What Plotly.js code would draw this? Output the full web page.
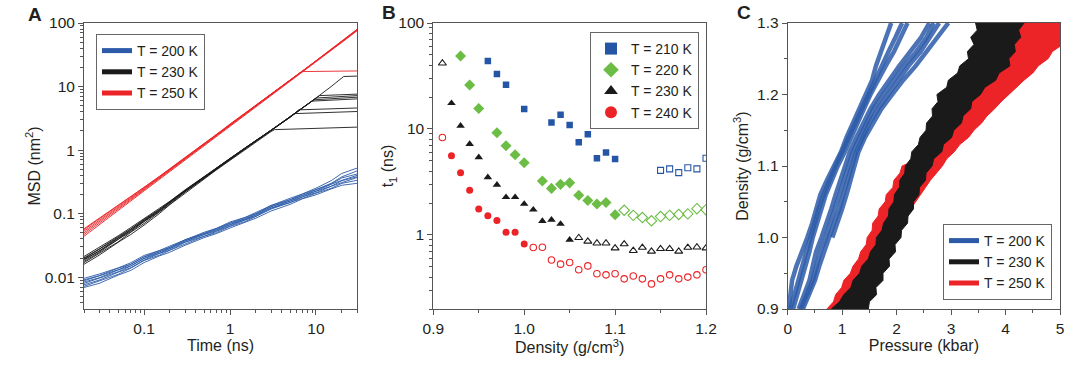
<!DOCTYPE html>
<html><head><meta charset="utf-8">
<script src="https://cdn.plot.ly/plotly-3.0.1.min.js"></script>
<style>html,body{margin:0;padding:0;background:#fff}#chart{width:1080px;height:373px}</style>
</head><body><div id="chart"></div>
<script>
// ---------- Panel A : MSD vs time ----------
const timeA = [0.02,0.03,0.05,0.07,0.1,0.15,0.2,0.3,0.5,0.7,1,1.5,2,3,5,7,10,15,20,30];
const msd200 = [
 [0.0069,0.0080,0.0108,0.0128,0.0170,0.0216,0.0248,0.0318,0.0420,0.0488,0.0595,0.0740,0.0850,0.1100,0.1400,0.1720,0.1980,0.2450,0.2800,0.3000],
 [0.0072,0.0087,0.0111,0.0139,0.0183,0.0222,0.0266,0.0332,0.0440,0.0505,0.0630,0.0750,0.0900,0.1180,0.1500,0.1740,0.2100,0.2500,0.3000,0.3350],
 [0.0076,0.0090,0.0120,0.0141,0.0186,0.0236,0.0268,0.0354,0.0442,0.0535,0.0640,0.0795,0.0910,0.1230,0.1490,0.1850,0.2130,0.2700,0.3050,0.3700],
 [0.0080,0.0096,0.0122,0.0150,0.0196,0.0238,0.0284,0.0358,0.0468,0.0538,0.0670,0.0798,0.0955,0.1210,0.1580,0.1830,0.2250,0.2700,0.3300,0.3800],
 [0.0084,0.0098,0.0130,0.0151,0.0198,0.0250,0.0283,0.0374,0.0470,0.0562,0.0672,0.0830,0.0950,0.1290,0.1580,0.1950,0.2260,0.2900,0.3350,0.4000],
 [0.0088,0.0104,0.0131,0.0160,0.0208,0.0249,0.0298,0.0373,0.0490,0.0565,0.0705,0.0832,0.1000,0.1280,0.1660,0.1930,0.2380,0.2920,0.3650,0.4200],
 [0.0091,0.0106,0.0139,0.0160,0.0210,0.0262,0.0296,0.0390,0.0490,0.0590,0.0710,0.0870,0.1000,0.1350,0.1660,0.2040,0.2400,0.3000,0.3800,0.4700],
 [0.0096,0.0112,0.0140,0.0169,0.0220,0.0262,0.0310,0.0390,0.0510,0.0590,0.0740,0.0875,0.1050,0.1340,0.1750,0.2050,0.2520,0.3300,0.4300,0.5200]
];
const time230 = [
 [0.02,0.03,0.05,0.07,0.1,0.15,0.2,0.3,0.5,0.7,1,1.5,2,3,3.3,30],
 [0.02,0.03,0.05,0.07,0.1,0.15,0.2,0.3,0.5,0.7,1,1.5,2,3,5,5.6,30],
 [0.02,0.03,0.05,0.07,0.1,0.15,0.2,0.3,0.5,0.7,1,1.5,2,3,5,6.3,30],
 [0.02,0.03,0.05,0.07,0.1,0.15,0.2,0.3,0.5,0.7,1,1.5,2,3,5,7,9,30],
 [0.02,0.03,0.05,0.07,0.1,0.15,0.2,0.3,0.5,0.7,1,1.5,2,3,5,7,9.5,30],
 [0.02,0.03,0.05,0.07,0.1,0.15,0.2,0.3,0.5,0.7,1,1.5,2,3,5,7,10,30],
 [0.02,0.03,0.05,0.07,0.1,0.15,0.2,0.3,0.5,0.7,1,1.5,2,3,5,7,10,11,30],
 [0.02,0.03,0.05,0.07,0.1,0.15,0.2,0.3,0.5,0.7,1,1.5,2,3,5,7,10,15,21,30]
];
const msd230 = [
 [0.016,0.0222,0.0355,0.047,0.066,0.100,0.139,0.210,0.350,0.492,0.69,1.02,1.36,1.96,2.1,2.3],
 [0.017,0.0238,0.036,0.051,0.070,0.106,0.141,0.220,0.360,0.502,0.71,1.05,1.36,1.99,3.3,3.75,4.05],
 [0.0178,0.0245,0.0395,0.052,0.075,0.107,0.148,0.221,0.370,0.508,0.72,1.065,1.38,2.0,3.28,4.3,4.6],
 [0.0186,0.026,0.0395,0.055,0.0755,0.112,0.148,0.228,0.371,0.518,0.724,1.07,1.395,2.01,3.31,4.6,5.9,6.4],
 [0.0192,0.0255,0.0415,0.054,0.078,0.111,0.153,0.228,0.378,0.518,0.732,1.075,1.40,2.02,3.3,4.61,6.2,6.8],
 [0.0196,0.0272,0.0418,0.057,0.0785,0.115,0.152,0.233,0.379,0.527,0.734,1.08,1.405,2.02,3.32,4.6,6.6,7.2],
 [0.0202,0.0278,0.0435,0.0575,0.0815,0.1155,0.156,0.233,0.384,0.529,0.741,1.085,1.41,2.03,3.3,4.62,6.6,7.2,7.6],
 [0.0212,0.0292,0.0448,0.0605,0.0828,0.119,0.157,0.237,0.386,0.536,0.745,1.09,1.42,2.04,3.31,4.6,6.6,10.0,14.4,14.6]
];
const time250 = [
 timeA, timeA, timeA, timeA, timeA,
 [0.02,0.03,0.05,0.07,0.1,0.15,0.2,0.3,0.5,0.7,1,1.5,2,3,5,6.8,30]
];
const msd250 = [
 [0.044,0.066,0.112,0.158,0.228,0.345,0.465,0.70,1.18,1.66,2.40,3.60,4.85,7.30,12.2,17.1,24.5,37.0,49.5,75.5],
 [0.047,0.070,0.118,0.165,0.237,0.357,0.478,0.72,1.21,1.70,2.46,3.68,4.93,7.40,12.4,17.3,24.8,37.4,50.0,76.5],
 [0.050,0.074,0.123,0.171,0.244,0.366,0.488,0.735,1.23,1.72,2.50,3.73,4.98,7.48,12.5,17.5,25.1,37.8,50.6,77.5],
 [0.053,0.078,0.128,0.177,0.250,0.374,0.497,0.745,1.25,1.75,2.53,3.77,5.03,7.55,12.6,17.6,25.3,38.2,51.2,78.5],
 [0.056,0.082,0.133,0.183,0.257,0.381,0.505,0.755,1.26,1.77,2.56,3.81,5.08,7.62,12.7,17.7,25.5,38.6,51.8,79.5],
 [0.058,0.084,0.136,0.186,0.260,0.385,0.51,0.76,1.27,1.78,2.57,3.83,5.1,7.65,12.8,17.2,17.6]
];
const legendA = ['T = 200 K','T = 230 K','T = 250 K'];

// ---------- Panel B : t1 vs density ----------
const dens210 = [0.96,0.97,0.98,1.00,1.03,1.04,1.05,1.06,1.07,1.08,1.09,1.10];
const t210 = [43.9,33,26.2,15.4,11.5,13.6,10.9,7.5,8.9,5.3,6.0,5.2];
const dens210o = [1.15,1.16,1.17,1.18,1.19,1.20];
const t210o = [4.07,4.2,3.87,4.3,4.2,5.3];
const dens220 = [0.93,0.94,0.95,0.97,0.98,0.99,1.00,1.02,1.03,1.04,1.05,1.06,1.07,1.08,1.09,1.10];
const t220 = [48.9,26,15.6,9.2,6.95,5.7,4.8,3.23,2.75,3.0,3.1,2.37,2.11,1.96,2.02,1.55];
const dens220o = [1.11,1.12,1.13,1.14,1.15,1.16,1.17,1.18,1.19,1.20];
const t220o = [1.71,1.53,1.46,1.36,1.49,1.53,1.56,1.58,1.77,1.73];
const dens230 = [0.92,0.93,0.94,0.95,0.96,0.97,0.98,0.99,1.00,1.01,1.02,1.03,1.04,1.05];
const t230 = [17.5,10.7,7.2,5.4,3.5,2.97,2.27,2.27,1.96,1.73,1.35,1.39,1.27,0.90];
const dens230o = [0.91,1.06,1.07,1.08,1.09,1.10,1.11,1.12,1.13,1.14,1.15,1.16,1.17,1.18,1.19,1.20];
const t230o = [41.7,0.94,0.87,0.835,0.835,0.75,0.82,0.71,0.76,0.70,0.74,0.74,0.70,0.76,0.765,0.75];
const dens240 = [0.92,0.93,0.94,0.95,0.96,0.97,0.98,0.99,1.00];
const t240 = [5.6,3.87,2.64,1.76,1.52,1.37,1.06,1.06,0.82];
const dens240o = [0.91,1.01,1.02,1.03,1.04,1.05,1.06,1.07,1.08,1.09,1.10,1.11,1.12,1.13,1.14,1.15,1.16,1.17,1.18,1.19,1.20];
const t240o = [8.3,0.76,0.765,0.58,0.53,0.55,0.47,0.51,0.43,0.42,0.43,0.385,0.41,0.385,0.345,0.385,0.42,0.385,0.40,0.42,0.47];
const legendB = ['T = 210 K','T = 220 K','T = 230 K','T = 240 K'];

// ---------- Panel C : density vs pressure ----------
const densStrand = [0.90,0.92,0.94,0.96,0.98,1.00,1.02,1.04,1.06,1.08,1.10,1.12,1.14,1.16,1.18,1.20,1.22,1.24,1.26,1.28,1.30];
const press200 = [
 [0.02,0.05,0.08,0.16,0.27,0.36,0.45,0.52,0.60,0.72,0.86,0.98,1.08,1.20,1.30,1.42,1.55,1.62,1.72,1.82,1.90],
 [0.05,0.12,0.20,0.25,0.34,0.42,0.49,0.57,0.66,0.76,0.88,1.00,1.12,1.24,1.35,1.47,1.60,1.72,1.85,1.98,2.10],
 [0.10,0.18,0.26,0.32,0.40,0.46,0.53,0.62,0.70,0.80,0.92,1.05,1.16,1.28,1.40,1.52,1.65,1.80,1.95,2.08,2.20],
 [0.20,0.30,0.40,0.46,0.52,0.62,0.72,0.80,0.88,0.96,1.04,1.14,1.26,1.38,1.52,1.68,1.86,2.05,2.25,2.45,2.60],
 [0.24,0.36,0.46,0.53,0.60,0.70,0.78,0.88,0.96,1.04,1.12,1.20,1.32,1.44,1.58,1.76,1.94,2.14,2.36,2.55,2.68],
 [0.28,0.40,0.50,0.58,0.66,0.76,0.85,0.95,1.02,1.10,1.18,1.26,1.38,1.50,1.66,1.84,2.02,2.22,2.44,2.62,2.78],
 [null,null,null,null,null,0.82,0.92,1.00,1.08,1.16,1.22,1.30,1.42,1.56,1.72,1.92,2.12,2.35,2.55,2.75,2.95]
];
const densEdge = [0.90,0.91,0.92,0.93,0.94,0.95,0.96,0.97,0.98,0.99,1.00,1.01,1.02,1.03,1.04,1.05,1.06,1.07,1.08,1.09,1.10,1.11,1.12,1.13,1.14,1.15,1.16,1.17,1.18,1.19,1.20,1.21,1.22,1.23,1.24,1.25,1.26,1.27,1.28,1.29,1.30];
const press230Left = [0.80,0.95,1.03,1.16,1.20,1.32,1.36,1.48,1.52,1.62,1.63,1.73,1.76,1.85,1.86,1.95,1.96,2.05,2.06,2.15,2.16,2.26,2.28,2.40,2.43,2.54,2.55,2.66,2.65,2.76,2.74,2.92,2.95,3.12,3.16,3.32,3.30,3.42,3.36,3.48,3.45];
const press230Right = [1.48,1.50,1.63,1.62,1.75,1.75,1.87,1.86,1.98,1.97,2.08,2.09,2.20,2.21,2.31,2.31,2.41,2.42,2.53,2.54,2.65,2.68,2.83,2.86,3.01,3.05,3.19,3.22,3.36,3.38,3.54,3.62,3.82,3.88,4.08,4.06,4.18,4.16,4.28,4.24,4.34];
const press250Left = [0.72,0.84,0.88,0.99,1.03,1.15,1.20,1.30,1.34,1.44,1.46,1.55,1.56,1.66,1.68,1.79,1.81,1.93,1.95,2.06,2.10,2.40,2.60,2.70,2.80,2.90,2.98,3.06,3.15,3.22,3.30,3.42,3.55,3.68,3.80,3.88,3.95,4.02,4.10,4.18,4.25];
const press250Right = [1.22,1.31,1.40,1.48,1.56,1.63,1.70,1.77,1.84,1.91,1.98,2.05,2.12,2.19,2.26,2.35,2.44,2.53,2.62,2.73,2.84,2.92,3.06,3.16,3.32,3.42,3.56,3.66,3.80,3.92,4.04,4.20,4.34,4.50,4.60,4.78,4.86,5.05,5.05,5.05,5.05];
const legendC = ['T = 200 K','T = 230 K','T = 250 K'];

// ---------- colours ----------
const BLUE = '#2b5ba8', BLACK = '#1b1a1a', RED = '#ec2327', GREEN = '#6bbd45', BSQ = '#2556a6';

const traces = [];
// Panel A
msd200.forEach(y => traces.push({x: timeA, y: y, xaxis:'x', yaxis:'y', mode:'lines', line:{color:BLUE, width:0.9}, showlegend:false, hoverinfo:'skip'}));
msd230.forEach((y,i) => traces.push({x: time230[i], y: y, xaxis:'x', yaxis:'y', mode:'lines', line:{color:BLACK, width:0.9}, showlegend:false, hoverinfo:'skip'}));
msd250.forEach((y,i) => traces.push({x: time250[i], y: y, xaxis:'x', yaxis:'y', mode:'lines', line:{color:RED, width:0.9}, showlegend:false, hoverinfo:'skip'}));
[BLUE, BLACK, RED].forEach((c,i) => traces.push({x:[null], y:[null], xaxis:'x', yaxis:'y', mode:'lines', line:{color:c, width:3}, name: legendA[i], legend:'legend'}));

// Panel B
function bpair(xf, yf, xo, yo, sym, col, size, name) {
  traces.push({x:xf, y:yf, xaxis:'x2', yaxis:'y2', mode:'markers', marker:{symbol:sym, color:col, size:size, line:{width:0}}, name:name, legend:'legend2'});
  traces.push({x:xo, y:yo, xaxis:'x2', yaxis:'y2', mode:'markers', marker:{symbol:sym+'-open', color:col, size:size-0.5, line:{width:1.1, color:col}}, showlegend:false});
}
bpair(dens210, t210, dens210o, t210o, 'square', BSQ, 6.5, legendB[0]);
bpair(dens220, t220, dens220o, t220o, 'diamond', GREEN, 8.5, legendB[1]);
bpair(dens230, t230, dens230o, t230o, 'triangle-up', BLACK, 7.5, legendB[2]);
bpair(dens240, t240, dens240o, t240o, 'circle', RED, 7, legendB[3]);

// Panel C
function band(left, right, col) {
  const xs = left.concat(right.slice().reverse());
  const ys = densEdge.concat(densEdge.slice().reverse());
  traces.push({x:xs, y:ys, xaxis:'x3', yaxis:'y3', mode:'lines', fill:'toself', fillcolor:col, line:{color:col, width:1}, showlegend:false, hoverinfo:'skip'});
}
press200.forEach(p => traces.push({x:p, y:densStrand, xaxis:'x3', yaxis:'y3', mode:'lines', line:{color:BLUE, width:4.5}, opacity:0.85, showlegend:false, hoverinfo:'skip'}));
band(press250Left, press250Right, RED);
band(press230Left, press230Right, BLACK);
[BLUE, BLACK, RED].forEach((c,i) => traces.push({x:[null], y:[null], xaxis:'x3', yaxis:'y3', mode:'lines', line:{color:c, width:3}, name: legendC[i], legend:'legend3'}));

// ---------- layout ----------
function logMinor(e0, e1) { const v=[]; for (let e=e0;e<=e1;e++) for (let k=2;k<=9;k++) v.push(k*Math.pow(10,e)); return v; }
const W=1080, H=373;
const px = v => v/W, py = v => (H-v)/H;
const AX = '#555555', TXT = '#231f20';
const base = {showline:true, mirror:true, linecolor:AX, linewidth:1, ticks:'outside', ticklen:5, tickcolor:AX, showgrid:false, zeroline:false, tickfont:{size:15.5, color:TXT}};
const yDom = [py(309), py(23)];
const legBase = {xanchor:'left', yanchor:'top', bgcolor:'#ffffff', bordercolor:'#666666', borderwidth:1, font:{size:14, color:TXT}, itemsizing:'constant', tracegroupgap:0};
const TF = {size:16, color:TXT};

const layout = {
  width:W, height:H, margin:{l:0,r:0,t:0,b:0}, paper_bgcolor:'#fff', plot_bgcolor:'#fff',
  font:{family:'"Liberation Sans", Arial, sans-serif', color:TXT, size:14},
  xaxis: Object.assign({}, base, {type:'log', domain:[px(84), px(357)], anchor:'y', range:[Math.log10(0.02), Math.log10(30)],
     tickvals:[0.1,1,10], ticktext:['0.1','1','10'], minor:{tickvals:logMinor(-2,1), ticks:'outside', ticklen:3, tickcolor:AX},
     title:{text:'Time (ns)', font:TF, standoff:1}}),
  yaxis: Object.assign({}, base, {type:'log', domain:yDom, anchor:'x', range:[-2.5, 2],
     tickvals:[0.01,0.1,1,10,100], ticktext:['0.01','0.1','1','10','100'], minor:{tickvals:logMinor(-3,1), ticks:'outside', ticklen:3, tickcolor:AX},
     title:{text:'MSD (nm<sup>2</sup>)', font:TF, standoff:0}}),
  xaxis2: Object.assign({}, base, {domain:[px(433.3), px(706)], anchor:'y2', range:[0.9, 1.2],
     tickvals:[0.9,1.0,1.1,1.2], ticktext:['0.9','1.0','1.1','1.2'], minor:{dtick:0.05, ticks:'outside', ticklen:3, tickcolor:AX},
     title:{text:'Density (g/cm<sup>3</sup>)', font:TF, standoff:1}}),
  yaxis2: Object.assign({}, base, {type:'log', domain:yDom, anchor:'x2', range:[Math.log10(0.2), 2],
     tickvals:[1,10,100], ticktext:['1','10','100'], minor:{tickvals:logMinor(-1,1), ticks:'outside', ticklen:3, tickcolor:AX},
     title:{text:'t<sub>1</sub> (ns)', font:TF, standoff:0}}),
  xaxis3: Object.assign({}, base, {domain:[px(787.7), px(1060)], anchor:'y3', range:[0, 5],
     dtick:1, tick0:0, minor:{dtick:0.5, ticks:'outside', ticklen:3, tickcolor:AX},
     title:{text:'Pressure (kbar)', font:TF, standoff:1}}),
  yaxis3: Object.assign({}, base, {domain:yDom, anchor:'x3', range:[0.9, 1.3],
     dtick:0.1, tick0:0.9, tickformat:'.1f', minor:{dtick:0.05, ticks:'outside', ticklen:3, tickcolor:AX},
     title:{text:'Density (g/cm<sup>3</sup>)', font:TF, standoff:4}}),
  legend: Object.assign({}, legBase, {x:px(96), y:py(34)}),
  legend2: Object.assign({}, legBase, {x:px(590), y:py(32)}),
  legend3: Object.assign({}, legBase, {x:px(943), y:py(224)}),
  annotations: [
    {text:'<b>A</b>', x:px(34.5), y:py(14), xref:'paper', yref:'paper', showarrow:false, xanchor:'center', yanchor:'middle', font:{size:19, family:'"Liberation Sans Narrow", "Liberation Sans", Arial', color:TXT}},
    {text:'<b>B</b>', x:px(389), y:py(12), xref:'paper', yref:'paper', showarrow:false, xanchor:'center', yanchor:'middle', font:{size:19, family:'"Liberation Sans Narrow", "Liberation Sans", Arial', color:TXT}},
    {text:'<b>C</b>', x:px(743.5), y:py(12.5), xref:'paper', yref:'paper', showarrow:false, xanchor:'center', yanchor:'middle', font:{size:19, family:'"Liberation Sans Narrow", "Liberation Sans", Arial', color:TXT}}
  ]
};
Plotly.newPlot('chart', traces, layout, {displayModeBar:false, staticPlot:true});
</script></body></html>
